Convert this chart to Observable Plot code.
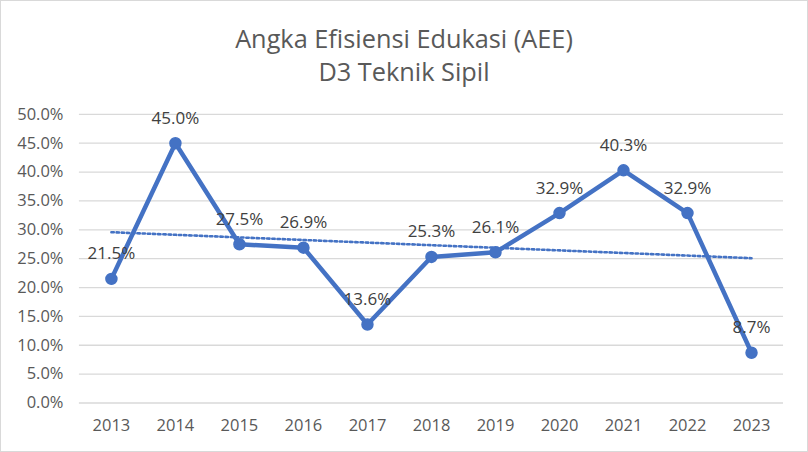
<!DOCTYPE html>
<html>
<head>
<meta charset="utf-8">
<script src="https://cdn.jsdelivr.net/npm/d3@7"></script>
<script src="https://cdn.jsdelivr.net/npm/@observablehq/plot@0.6"></script>
<style>
  html, body { margin: 0; padding: 0; background: #fff; }
  #wrap { position: relative; width: 808px; height: 452px; box-sizing: border-box; border: 1px solid #d9d9d9; overflow: hidden; font-family: "Open Sans", sans-serif; }
  #title { position: absolute; left: 0; top: 21px; width: 806px; text-align: center; color: #595959; font-size: 25.3px; line-height: 33px; }
  #chart { position: absolute; left: -1px; top: -1px; }
</style>
</head>
<body>
<div id="wrap">
  <div id="chart"></div>
  <div id="title">Angka Efisiensi Edukasi (AEE)<br>D3 Teknik Sipil</div>
</div>
<script>
const years = [2013, 2014, 2015, 2016, 2017, 2018, 2019, 2020, 2021, 2022, 2023];
const values = [21.5, 45.0, 27.5, 26.9, 13.6, 25.3, 26.1, 32.9, 40.3, 32.9, 8.7];
const yTicks = [0, 5, 10, 15, 20, 25, 30, 35, 40, 45, 50];

const data = years.map((year, i) => ({ year, value: values[i] }));
const blue = "#4472C4";

const chart = Plot.plot({
  width: 808,
  height: 452,
  marginLeft: 79,
  marginRight: 24,
  marginTop: 114,
  marginBottom: 49,
  style: { fontFamily: "Open Sans, sans-serif", fontSize: "16.5px", color: "#595959", background: "transparent" },
  x: { type: "linear", domain: [2012.5, 2023.5], label: null },
  y: { domain: [0, 50], label: null },
  marks: [
    Plot.gridY(yTicks, { stroke: "#d9d9d9", strokeOpacity: 1, strokeWidth: 1.3 }),
    Plot.axisY(yTicks, { tickSize: 0, tickPadding: 16, tickFormat: d => d.toFixed(1) + "%", fill: "#595959", fontSize: 16.5 }),
    Plot.axisX(years, { tickSize: 0, tickPadding: 16, tickFormat: d => String(d), fill: "#595959", fontSize: 16.5 }),
    Plot.linearRegressionY(data, { x: "year", y: "value", ci: 0, stroke: blue, strokeWidth: 2.6, strokeDasharray: "2.4,2.8" }),
    Plot.line(data, { x: "year", y: "value", stroke: blue, strokeWidth: 4.5, strokeLinejoin: "round" }),
    Plot.dot(data, { x: "year", y: "value", r: 5.5, fill: blue, stroke: blue }),
    Plot.text(data, { x: "year", y: "value", text: d => d.value.toFixed(1) + "%", dy: -25, fill: "#404040", fontSize: 17 })
  ]
});
document.getElementById("chart").appendChild(chart);
</script>
</body>
</html>
